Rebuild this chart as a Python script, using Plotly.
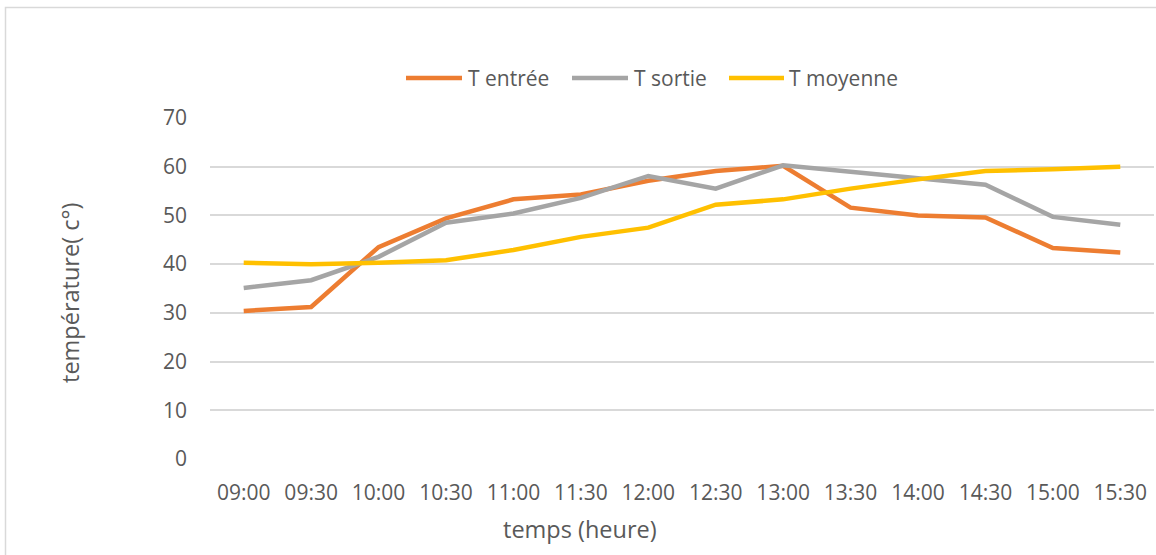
import plotly.graph_objects as go

# Mesures de température relevées toutes les 30 minutes
heures = ["09:00", "09:30", "10:00", "10:30", "11:00", "11:30", "12:00",
          "12:30", "13:00", "13:30", "14:00", "14:30", "15:00", "15:30"]
t_entree = [30.4, 31.2, 43.5, 49.4, 53.3, 54.3, 57.1,
            59.1, 60.2, 51.6, 50.0, 49.6, 43.3, 42.4]
t_sortie = [35.1, 36.7, 41.5, 48.5, 50.4, 53.6, 58.1,
            55.5, 60.3, 58.9, 57.7, 56.3, 49.7, 48.1]
t_moyenne = [40.3, 40.0, 40.3, 40.8, 42.9, 45.6, 47.5,
             52.2, 53.3, 55.5, 57.4, 59.1, 59.5, 60.0]
y_ticks = [0, 10, 20, 30, 40, 50, 60, 70]

series = [("T entrée", t_entree, "#ED7D31"),
          ("T sortie", t_sortie, "#A5A5A5"),
          ("T moyenne", t_moyenne, "#FFC000")]

W, H = 1156, 555
ML, MR, MT, MB = 210, 2, 118, 96
PW, PH = W - ML - MR, H - MT - MB

def px(x):
    return (x - ML) / PW

def py(y):
    return (H - MB - y) / PH

FONT = "Open Sans"
TXT = "#595959"
FS = 21
FS_TITLE = 23.5

fig = go.Figure()
for name, vals, col in series:
    fig.add_trace(go.Scatter(x=heures, y=vals, name=name, mode="lines",
                             line=dict(color=col, width=4.5),
                             showlegend=False))

# légende horizontale : segment de couleur suivi du nom de la série
legend_items = [(406, 462, 466), (572, 628, 632), (729, 784, 787)]
shapes = [
    dict(type="rect", xref="paper", yref="paper",
         x0=px(5.5), x1=px(1175), y0=py(575), y1=py(7.5),
         line=dict(color="#D9D9D9", width=1.5), layer="below"),
]
annotations = [
    dict(text="temps (heure)", xref="paper", yref="paper",
         x=px(580), y=py(529), xanchor="center", yanchor="middle",
         showarrow=False, font=dict(size=FS_TITLE, color=TXT)),
    dict(text="température( c°)", xref="paper", yref="paper",
         x=px(70), y=py(293), xanchor="center", yanchor="middle",
         textangle=-90, showarrow=False, font=dict(size=FS_TITLE, color=TXT)),
]
for (name, _, col), (x0, x1, xt) in zip(series, legend_items):
    shapes.append(dict(type="line", xref="paper", yref="paper",
                       x0=px(x0), x1=px(x1), y0=py(78), y1=py(78),
                       line=dict(color=col, width=4.5)))
    annotations.append(dict(text=name, xref="paper", yref="paper",
                            x=px(xt), y=py(78), xanchor="left",
                            yanchor="middle", showarrow=False,
                            font=dict(size=FS, color=TXT)))

fig.update_layout(
    width=W, height=H,
    margin=dict(l=ML, r=MR, t=MT, b=MB, autoexpand=False),
    paper_bgcolor="white", plot_bgcolor="white",
    font=dict(family=FONT, size=FS, color=TXT),
    showlegend=False,
    xaxis=dict(type="category", range=[-0.5, len(heures) - 0.5],
               showgrid=False, zeroline=False, showline=False, ticks="",
               ticklabelstandoff=19, tickfont=dict(size=FS, color=TXT)),
    yaxis=dict(range=[0, 70], tickvals=y_ticks, showgrid=True,
               gridcolor="#D9D9D9", gridwidth=1.5, zeroline=False,
               showline=False, ticks="", ticklabelstandoff=22,
               tickfont=dict(size=FS, color=TXT)),
    annotations=annotations,
    shapes=shapes,
)

fig.write_html("out.html")
